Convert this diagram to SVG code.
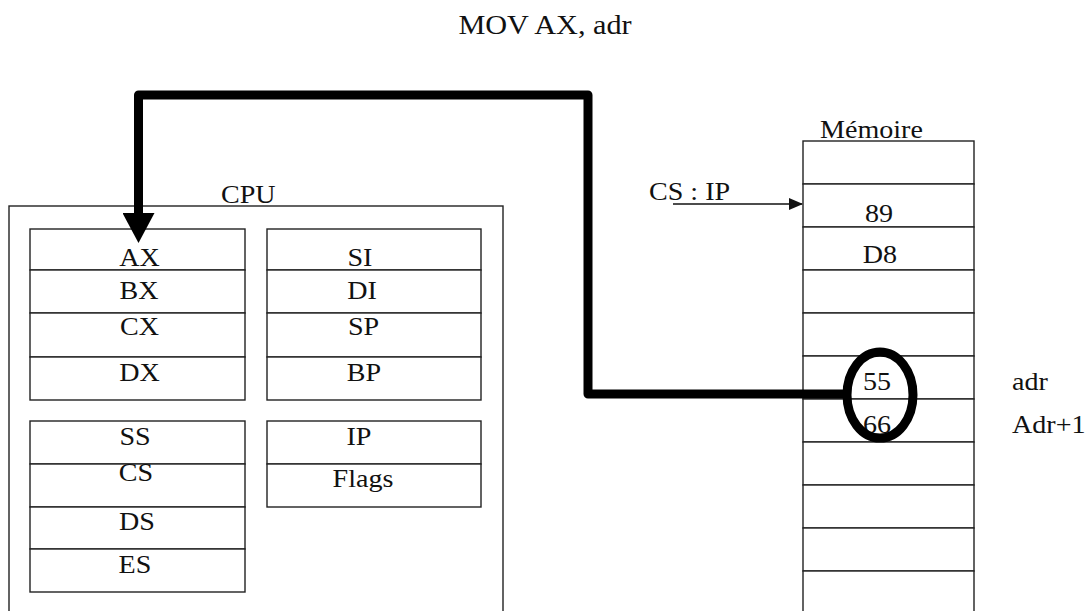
<svg xmlns="http://www.w3.org/2000/svg" width="1090" height="611" viewBox="0 0 1090 611">
<defs>
<style>
.box{fill:none;stroke:#222;stroke-width:1.4}
.cell{fill:#fff;stroke:#222;stroke-width:1.4}
.t{font-family:"Liberation Serif","Times New Roman",serif;font-size:26px;fill:#111}
.c{text-anchor:middle}
.thick{fill:none;stroke:#000;stroke-width:9;stroke-linejoin:round}
.thin{fill:none;stroke:#111;stroke-width:1.4}
</style>
<marker id="bigArrow" markerUnits="userSpaceOnUse" markerWidth="32" markerHeight="32" refX="0" refY="16" orient="auto" viewBox="0 0 32 32">
<polygon points="0,0 30,16 0,32" fill="#000"/>
</marker>
<marker id="smallArrow" markerUnits="userSpaceOnUse" markerWidth="14" markerHeight="12" refX="13" refY="6" orient="auto" viewBox="0 0 14 12">
<polygon points="0,0 14,6 0,12" fill="#111"/>
</marker>
</defs>
<rect width="1090" height="611" fill="#fff"/>

<g id="title">
<text class="t c" style="font-size:28px" transform="translate(545,34) scale(1.08,1)">MOV AX, adr</text>
</g>

<g id="cpu">
<rect class="box" x="9" y="206" width="494" height="410"/>
<text class="t" transform="translate(221,203) scale(1.08,1)">CPU</text>
</g>

<g id="reg-general">
<rect class="cell" x="30" y="229" width="215" height="41"/>
<rect class="cell" x="30" y="270" width="215" height="43"/>
<rect class="cell" x="30" y="313" width="215" height="44"/>
<rect class="cell" x="30" y="357" width="215" height="43"/>
<text class="t c" transform="translate(139.5,266) scale(1.08,1)">AX</text>
<text class="t c" transform="translate(139,299) scale(1.08,1)">BX</text>
<text class="t c" transform="translate(139.5,335) scale(1.08,1)">CX</text>
<text class="t c" transform="translate(139.5,381) scale(1.08,1)">DX</text>
</g>

<g id="reg-index">
<rect class="cell" x="267" y="229" width="214" height="41"/>
<rect class="cell" x="267" y="270" width="214" height="43"/>
<rect class="cell" x="267" y="313" width="214" height="44"/>
<rect class="cell" x="267" y="357" width="214" height="43"/>
<text class="t c" transform="translate(360,266) scale(1.08,1)">SI</text>
<text class="t c" transform="translate(362,299) scale(1.08,1)">DI</text>
<text class="t c" transform="translate(363.5,335) scale(1.08,1)">SP</text>
<text class="t c" transform="translate(364,381) scale(1.08,1)">BP</text>
</g>

<g id="reg-segment">
<rect class="cell" x="30" y="421" width="215" height="43"/>
<rect class="cell" x="30" y="464" width="215" height="43"/>
<rect class="cell" x="30" y="507" width="215" height="42"/>
<rect class="cell" x="30" y="549" width="215" height="43"/>
<text class="t c" transform="translate(135,445) scale(1.08,1)">SS</text>
<text class="t c" transform="translate(136,481) scale(1.08,1)">CS</text>
<text class="t c" transform="translate(137,530) scale(1.08,1)">DS</text>
<text class="t c" transform="translate(135,573) scale(1.08,1)">ES</text>
</g>

<g id="reg-control">
<rect class="cell" x="267" y="421" width="214" height="43"/>
<rect class="cell" x="267" y="464" width="214" height="43"/>
<text class="t c" transform="translate(359,445) scale(1.08,1)">IP</text>
<text class="t c" transform="translate(363,487) scale(1.08,1)">Flags</text>
</g>

<g id="memoire">
<text class="t" transform="translate(820,138) scale(1.08,1)">Mémoire</text>
<rect class="cell" x="803" y="141" width="171" height="43"/>
<rect class="cell" x="803" y="184" width="171" height="43"/>
<rect class="cell" x="803" y="227" width="171" height="43"/>
<rect class="cell" x="803" y="270" width="171" height="43"/>
<rect class="cell" x="803" y="313" width="171" height="43"/>
<rect class="cell" x="803" y="356" width="171" height="43"/>
<rect class="cell" x="803" y="399" width="171" height="43"/>
<rect class="cell" x="803" y="442" width="171" height="43"/>
<rect class="cell" x="803" y="485" width="171" height="43"/>
<rect class="cell" x="803" y="528" width="171" height="43"/>
<rect class="cell" x="803" y="571" width="171" height="50"/>
<text class="t c" transform="translate(879,222) scale(1.08,1)">89</text>
<text class="t c" transform="translate(880,263) scale(1.08,1)">D8</text>
<text class="t c" transform="translate(877,390) scale(1.08,1)">55</text>
<text class="t c" transform="translate(877,433) scale(1.08,1)">66</text>
</g>

<g id="labels">
<text class="t" transform="translate(1012,390) scale(1.08,1)">adr</text>
<text class="t" transform="translate(1012,433) scale(1.08,1)">Adr+1</text>
<text class="t" transform="translate(649,200) scale(1.08,1)">CS : IP</text>
</g>

<g id="connectors">
<path class="thin" d="M673,204 H802" marker-end="url(#smallArrow)"/>
<path class="thick" d="M846,394 H588 V95 H138.5 V213" marker-end="url(#bigArrow)"/>
<ellipse cx="880" cy="395" rx="33" ry="43" fill="none" stroke="#000" stroke-width="9"/>
</g>
</svg>
